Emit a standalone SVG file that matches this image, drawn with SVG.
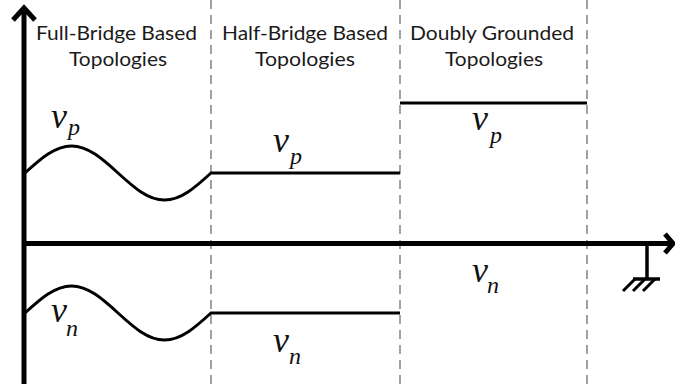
<svg xmlns="http://www.w3.org/2000/svg" width="675" height="387" viewBox="0 0 675 387">
<defs>
<style>
.hdr{font-family:Lato,"Open Sans","Liberation Sans",sans-serif;font-size:20px;fill:#1a1a1a;text-anchor:middle}
.dash{stroke:#8a8a8a;stroke-width:1.6;stroke-dasharray:9 6;fill:none}
.axis{stroke:#000;stroke-width:5;fill:none}
.sig{stroke:#000;stroke-width:3;fill:none}
.v{font-family:"Liberation Serif","DejaVu Serif",serif;font-style:italic;font-size:36px;fill:#111}
.s{font-family:"Liberation Serif","DejaVu Serif",serif;font-style:italic;font-size:24px;fill:#111}
</style>
</defs>
<rect width="675" height="387" fill="#fff"/>
<g id="dividers">
<line class="dash" x1="211" y1="0" x2="211" y2="387"/>
<line class="dash" x1="400" y1="0" x2="400" y2="387"/>
<line class="dash" x1="587" y1="0" x2="587" y2="387"/>
</g>
<g id="headers">
<text class="hdr" x="116.5" y="40" textLength="161" lengthAdjust="spacingAndGlyphs">Full-Bridge Based</text>
<text class="hdr" x="118" y="66" textLength="98" lengthAdjust="spacingAndGlyphs">Topologies</text>
<text class="hdr" x="305" y="40" textLength="166" lengthAdjust="spacingAndGlyphs">Half-Bridge Based</text>
<text class="hdr" x="305" y="66" textLength="100" lengthAdjust="spacingAndGlyphs">Topologies</text>
<text class="hdr" x="492" y="40" textLength="164" lengthAdjust="spacingAndGlyphs">Doubly Grounded</text>
<text class="hdr" x="494" y="66" textLength="98" lengthAdjust="spacingAndGlyphs">Topologies</text>
</g>
<g id="axes">
<line class="axis" x1="24" y1="9" x2="24" y2="384"/>
<polyline class="axis" points="13,20 24,8 35,20" stroke-linejoin="miter"/>
<line class="axis" x1="22" y1="243.5" x2="671" y2="243.5"/>
<polyline class="axis" points="665,234 673,243.5 665,253"/>
</g>
<g id="ground">
<line stroke="#000" stroke-width="3.5" x1="647" y1="243" x2="647" y2="279"/>
<line stroke="#000" stroke-width="3.5" x1="633" y1="279" x2="660" y2="279"/>
<line stroke="#000" stroke-width="3" x1="635" y1="279" x2="623" y2="291"/>
<line stroke="#000" stroke-width="3" x1="645" y1="279" x2="633" y2="291"/>
<line stroke="#000" stroke-width="3" x1="655" y1="279" x2="643" y2="291"/>
</g>
<g id="signals">
<path class="sig" d="M25,173 C40.17,159.17 54.67,146 71.5,146 C88.33,146 102.83,159.17 118,173 C133.17,186.83 147.67,200 164.5,200 C181.33,200 195.83,186.83 211,173 L400,173"/>
<path class="sig" d="M25,313 C40.17,299.17 54.67,286 71.5,286 C88.33,286 102.83,299.17 118,313 C133.17,326.83 147.67,340 164.5,340 C181.33,340 195.83,326.83 211,313 L400,313"/>
<line class="sig" x1="400" y1="103" x2="587" y2="103"/>
<line class="axis" x1="400" y1="243.5" x2="587" y2="243.5"/>
</g>
<g id="labels">
<text class="v" x="51" y="128">v</text><text class="s" x="68" y="135">p</text>
<text class="v" x="273" y="152">v</text><text class="s" x="290" y="164">p</text>
<text class="v" x="472" y="130">v</text><text class="s" x="490" y="143">p</text>
<text class="v" x="51" y="322">v</text><text class="s" x="66" y="336">n</text>
<text class="v" x="273" y="352">v</text><text class="s" x="289" y="364">n</text>
<text class="v" x="472" y="282">v</text><text class="s" x="487" y="293">n</text>
</g>
</svg>
